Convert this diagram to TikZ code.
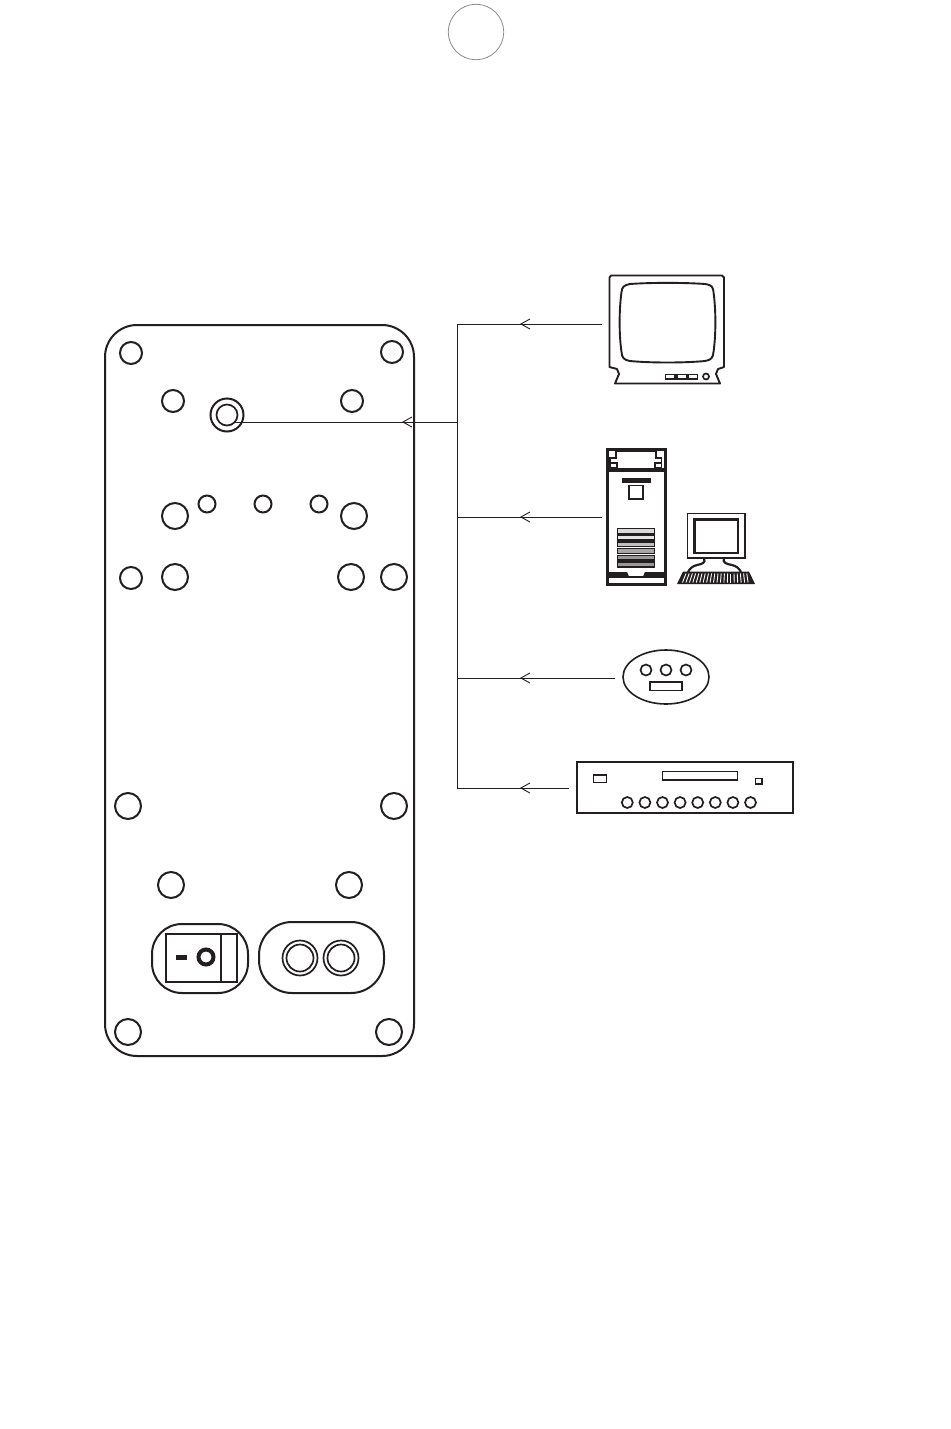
\documentclass[tikz,border=0pt]{standalone}
\usetikzlibrary{arrows.meta,shapes.geometric}
\definecolor{ink}{HTML}{231F20}
\tikzset{
  panel/.style={draw=ink,line width=2pt},
  wire/.style={draw=ink,line width=1pt},
  tipwire/.style={wire,-{Straight Barb[length=9pt,width=10pt,line width=.9pt]}},
  thin part/.style={draw=ink,line width=1.5pt},
  med part/.style={draw=ink,line width=1.9pt},
  hole/.style={circle,draw=ink,line width=2pt,inner sep=0pt,minimum size=#1*2pt},
  fine hole/.style={circle,draw=ink,line width=1.7pt,inner sep=0pt,minimum size=#1*2pt},
  small hole/.style={circle,draw=ink,line width=1.7pt,inner sep=0pt,fill=white,minimum size=#1*2pt},
}
\begin{document}
\begin{tikzpicture}[x=1pt,y=-1pt]
\useasboundingbox (0,0) rectangle (950,1429);
\fill[white] (0,0) rectangle (950,1429);
% page-number circle
\node[circle,draw=black!45,line width=.8pt,inner sep=0pt,minimum size=55.5pt] (pagecircle) at (476,32) {};
% panel
\draw[panel,rounded corners=32pt] (105,325) rectangle (414,1056);
\foreach \n/\x/\y/\r in {a/131/353/11,b/392/352/11,c/173/401/11,d/352/401/11,
  e/175/516/13,f/207/504/8.5,g/263/504/8.5,h/319/504/8.5,i/354/516/13,
  j/131/578/11,k/175/577/13,l/351/577/13,m/394/577/13,
  n/128/806/13,o/394/806/13,p/171/885/13,q/349/885/13,r/128/1032/13,s/389/1032/13}
  {\node[hole=\r] (\n) at (\x,\y) {};}
\node[hole=16.5] (jack) at (227,415) {};
\node[fine hole=10.5] (jackin) at (227,415) {};
% switch
\draw[panel,rounded corners=30pt] (152,924) rectangle (248,993);
\draw[panel] (166,934) rectangle (237,982);
\draw[panel] (221,934) -- (221,982);
\fill[ink] (176,955) rectangle (187,959.5);
\node[circle,draw=ink,line width=4pt,inner sep=0pt,minimum size=15pt] (ring) at (206,957) {};
% socket
\draw[panel,rounded corners=33pt] (259,922) rectangle (384,993);
\foreach \n/\x in {u/300,v/341}{
  \node[fine hole=17.5] (\n) at (\x,958) {};
  \node[fine hole=13.5] (\n i) at (\x,958) {};
}
% connectors
\coordinate (top) at (457,324);
\coordinate (jj) at (457,422);
\coordinate (pj) at (457,517);
\coordinate (dj) at (457,678);
\coordinate (rj) at (457,788);
\coordinate (jackend) at (234,422);
\coordinate (tvp) at (602,324);
\coordinate (pcp) at (602,517);
\coordinate (dp) at (615,678);
\coordinate (rp) at (569,788);
\coordinate (ja) at (402,422);
\coordinate (ta) at (520,324);
\coordinate (pa) at (520,517);
\coordinate (da) at (520,678);
\coordinate (ra) at (520,788);
\draw[wire] (top) -- (rj);
\draw[wire] (jj) -- (jackend);
\draw[tipwire] (jj) -- (ja);
\draw[wire] (top) -- (tvp);
\draw[tipwire] (tvp) -- (ta);
\draw[wire] (pj) -- (pcp);
\draw[tipwire] (pcp) -- (pa);
\draw[wire] (dj) -- (dp);
\draw[tipwire] (dp) -- (da);
\draw[wire] (rj) -- (rp);
\draw[tipwire] (rp) -- (ra);
% TV
\draw[med part,line join=round] (611,275.5) -- (722,275.5) -- (724,277.5) -- (724,367)
  -- (718,369) -- (716,374) -- (720,383.5) -- (615,383.5) -- (619,374) -- (617,369) -- (609.5,367) -- (609.5,277.5) -- cycle;
\draw[med part] (630,284) .. controls (650,282.5) and (685,282.5) .. (705,284)
  .. controls (712,285) and (713,287) .. (713.5,292)
  .. controls (716,310) and (716,335) .. (713.5,352)
  .. controls (713,358) and (711,360) .. (705,361)
  .. controls (685,363) and (650,363) .. (630,361)
  .. controls (624,360) and (622,358) .. (621.5,352)
  .. controls (619,335) and (619,310) .. (621.5,292)
  .. controls (622,287) and (624,285) .. (630,284) -- cycle;
\draw[thin part] (665.5,374.5) rectangle (675,379);
\draw[thin part] (677,374.5) rectangle (687,379);
\draw[thin part] (688,374.5) rectangle (697.5,379);
\node[small hole=3] (tvknob) at (706,376.5) {};
% tower
\draw[draw=ink,line width=3pt] (607,449.5) rectangle (665,584);
\draw[med part] (610,468) -- (610,458) -- (616,458) -- (616,451.5) -- (656,451.5) -- (656,458) -- (661.5,458) -- (661.5,468);
\draw[thin part] (610,463) rectangle (617,468);
\draw[thin part] (655,463) rectangle (661.5,468);
\fill[ink] (608,468) rectangle (664,472);
\fill[ink] (622,478) rectangle (650.5,482.5);
\draw[med part] (629,485.5) rectangle (643,499);
\fill[ink] (608,572) -- (627,572) -- (629,576.5) -- (608,576.5) -- cycle;
\fill[ink] (664,572) -- (645,572) -- (643,576.5) -- (664,576.5) -- cycle;
\draw[draw=ink,line width=1.2pt] (608,577) -- (664,577);
\foreach \y/\c in {528.5/black!15,535.2/black!10,541.9/black!25,548.6/black!35,555.3/black!40,562/black!40}{
  \draw[draw=ink,fill=\c,line width=1.5pt] (617.5,\y) rectangle (654.5,\y+4.8);
}
% desktop monitor
\draw[med part] (687.5,513.5) rectangle (745,558);
\draw[draw=ink,line width=2.1pt] (694.5,519.5) rectangle (738,553);
\draw[draw=ink,line width=2.2pt] (704,558) .. controls (706,563) and (702,564) .. (697,565) .. controls (693,566) and (690,568) .. (688,572);
\draw[draw=ink,line width=2.2pt] (724,558) .. controls (722,563) and (727,564) .. (732,565) .. controls (736,566) and (739,568) .. (741,572);
\fill[ink] (683,571.5) -- (749,571.5) -- (755,584) -- (677,584) -- cycle;
\foreach \i in {0,...,19}{
  \draw[white,line width=.9pt] ({686+\i*3.2},573.5) -- ({682.5+\i*3.45},582.5);
}
% dongle
\node[ellipse,draw=ink,line width=1.6pt,inner sep=0pt,minimum width=86pt,minimum height=54pt] (dongle) at (666,677) {};
\foreach \n/\x in {da1/646,da2/666,da3/686}{
  \node[small hole=5.5] (\n) at (\x,670) {};
}
\draw[thin part] (650,682) rectangle (682,690.5);
% receiver
\draw[med part] (577,762) rectangle (793,813);
\draw[thin part] (593.5,775) rectangle (606.5,782.5);
\draw[thin part] (662.5,771.5) rectangle (737.5,780);
\draw[thin part] (755.5,778.5) rectangle (762,784);
\foreach \i in {0,...,7}{
  \node[small hole=5.5] (r\i) at ({627.3+\i*17.6},802.5) {};
}
\end{tikzpicture}
\end{document}
